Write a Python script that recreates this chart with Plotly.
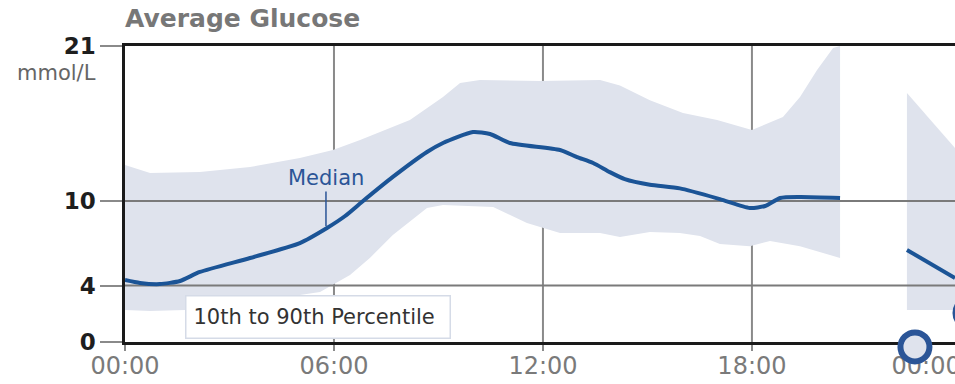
import plotly.graph_objects as go

# ---------------- data ----------------
# hours since midnight, glucose mmol/L
median_h = [0, 0.43, 1.0, 1.58, 2.15, 3.59, 5.02, 5.80, 6.32, 6.80, 7.69, 8.67, 9.13,
            9.99, 10.48, 11.05, 12.49, 12.98, 13.44, 13.92, 14.35, 15.07, 15.93, 17.08,
            17.94, 18.38, 18.81, 19.38, 20.53]
median_v = [4.40, 4.19, 4.11, 4.33, 4.97, 5.96, 7.02, 8.09, 8.94, 9.93, 11.71, 13.48, 14.12,
            14.90, 14.76, 14.12, 13.62, 13.12, 12.70, 12.05, 11.55, 11.15, 10.90, 10.14,
            9.51, 9.65, 10.22, 10.29, 10.22]

upper_h = [0, 0.72, 2.15, 3.59, 5.02, 5.97, 6.75, 8.18, 9.13, 9.62, 10.19, 11.91, 13.64,
           14.21, 15.07, 16.02, 17.0, 18.0, 18.89, 19.38, 19.87, 20.33, 20.53]
upper_v = [12.56, 11.99, 12.06, 12.42, 13.05, 13.62, 14.33, 15.75, 17.38, 18.37, 18.59, 18.52, 18.59,
           18.20, 17.16, 16.24, 15.75, 15.04, 15.96, 17.38, 19.30, 20.86, 21.0]

lower_h = [0, 0.72, 1.72, 3.59, 5.02, 5.6, 6.46, 7.03, 7.69, 8.67, 9.13, 10.57, 11.54, 12.49,
           13.64, 14.21, 15.07, 15.93, 16.51, 17.08, 17.94, 18.52, 19.38, 20.53]
lower_v = [2.27, 2.20, 2.27, 2.62, 3.33, 3.55, 4.75, 5.96, 7.59, 9.50, 9.72, 9.57, 8.44, 7.73,
           7.73, 7.45, 7.80, 7.73, 7.52, 6.95, 6.80, 7.16, 6.80, 5.96]

# next-day segment
median2_h = [22.45, 23.83]
median2_v = [6.53, 4.54]
upper2_h = [22.45, 23.83]
upper2_v = [17.66, 13.76]
lower2_h = [22.45, 23.83]
lower2_v = [2.27, 2.27]

# event markers
event_h = [22.68, 24.26]
event_v = [-0.35, 2.06]

x_tickvals = [0, 6, 12, 18, 23.0]
x_ticktext = ["00:00", "06:00", "12:00", "18:00", "00:00"]
x_grid = [6, 12, 18]
y_tickvals = [0, 4, 10, 21]
y_ticktext = ["0", "4", "10", "21"]
y_grid = [4, 10]

X_MAX = 23.83
Y_MAX = 21

# ---------------- styles / layout geometry ----------------
BAND = "#dfe3ed"
BLUE = "#1b5496"
BLUE2 = "#2b5597"
GRID = "#8a8a8a"
FONT = "DejaVu Sans"
W, H = 955, 384
M_L, M_T, M_B = 125, 46, 42
plot_h = H - M_T                       # plotting area (bottom margin 0)
main_bottom = M_B / plot_h             # main y domain start
Y2_MIN = -Y_MAX * M_B / (H - M_T - M_B)  # overlay subplot reaching to page bottom

fig = go.Figure()

# vertical gridlines (below band)
gx, gy = [], []
for g in x_grid:
    gx += [g, g, None]
    gy += [0, Y_MAX, None]
fig.add_trace(go.Scatter(x=gx, y=gy, mode="lines", line=dict(color=GRID, width=2),
                         hoverinfo="skip", showlegend=False))

# bands
for uh, uv, lh, lv in [(upper_h, upper_v, lower_h, lower_v),
                       (upper2_h, upper2_v, lower2_h, lower2_v)]:
    fig.add_trace(go.Scatter(x=uh + lh[::-1], y=uv + lv[::-1], mode="lines",
                             fill="toself", fillcolor=BAND, line=dict(width=0, color=BAND),
                             hoverinfo="skip", showlegend=False))

# horizontal gridlines (above band)
hx, hy = [], []
for g in y_grid:
    hx += [0, X_MAX, None]
    hy += [g, g, None]
fig.add_trace(go.Scatter(x=hx, y=hy, mode="lines", line=dict(color="#7a7a7a", width=2),
                         hoverinfo="skip", showlegend=False))

# median
fig.add_trace(go.Scatter(x=median_h, y=median_v, mode="lines",
                         line=dict(color=BLUE, width=4, shape="spline", smoothing=0.6),
                         showlegend=False))
fig.add_trace(go.Scatter(x=median2_h, y=median2_v, mode="lines",
                         line=dict(color=BLUE, width=4), showlegend=False))

# event markers (on an invisible overlay subplot that reaches below the x axis)
fig.add_trace(go.Scatter(x=event_h, y=event_v, mode="markers", xaxis="x2", yaxis="y2",
                         marker=dict(size=29, color=BAND, line=dict(color=BLUE2, width=6)),
                         hoverinfo="skip", showlegend=False))

fig.update_layout(
    width=W, height=H,
    margin=dict(l=M_L, r=0, t=M_T, b=0, autoexpand=False),
    paper_bgcolor="white", plot_bgcolor="rgba(0,0,0,0)",
    font=dict(family=FONT),
    title=dict(text="<b>Average Glucose</b>", x=M_L / W, xanchor="left",
               y=1 - 18 / H, yanchor="middle",
               font=dict(family=FONT, size=25, color="#777777")),
    xaxis=dict(range=[0, X_MAX], tickvals=x_tickvals, ticktext=x_ticktext,
               showgrid=False, zeroline=False, showline=True, mirror=True,
               linecolor="#1a1a1a", linewidth=2.5, anchor="y", automargin=False,
               ticks="outside", ticklen=6, tickwidth=2, tickcolor=GRID,
               ticklabeloverflow="allow", ticklabelstandoff=-6,
               tickfont=dict(family=FONT, size=24, color="#7a7a7a")),
    yaxis=dict(range=[0, Y_MAX], tickvals=y_tickvals, ticktext=y_ticktext,
               domain=[main_bottom, 1], anchor="x", automargin=False,
               showgrid=False, zeroline=False, showline=True,
               linecolor="#1a1a1a", linewidth=2.5,
               ticks="outside", ticklen=22, tickwidth=2, tickcolor=GRID,
               tickfont=dict(family=FONT, size=23, color="#1e1e1e", weight="bold")),
    xaxis2=dict(range=[0, X_MAX], domain=[0, 1], anchor="y2", visible=False, automargin=False),
    yaxis2=dict(range=[Y2_MIN, Y_MAX], domain=[0, 1], anchor="x2", visible=False, automargin=False),
    annotations=[
        dict(text="mmol/L", xref="paper", yref="y", x=0, y=19.1, xanchor="right",
             yanchor="middle", xshift=-27, showarrow=False,
             font=dict(family=FONT, size=21, color="#666666")),
        dict(text="Median", xref="x", yref="y", x=5.77, y=8.23, showarrow=True,
             ax=0, ay=-48, arrowhead=0, arrowwidth=1.5, arrowcolor=BLUE2, standoff=0,
             font=dict(family=FONT, size=21, color=BLUE2)),
        dict(text="10th to 90th Percentile", xref="x", yref="y", x=5.53, y=1.74,
             showarrow=False, width=249, height=27, borderpad=7, align="left",
             bgcolor="white", bordercolor="#d5dbe7", borderwidth=1.5,
             font=dict(family=FONT, size=21, color="#333333")),
    ],
)

fig.write_html("out.html")
